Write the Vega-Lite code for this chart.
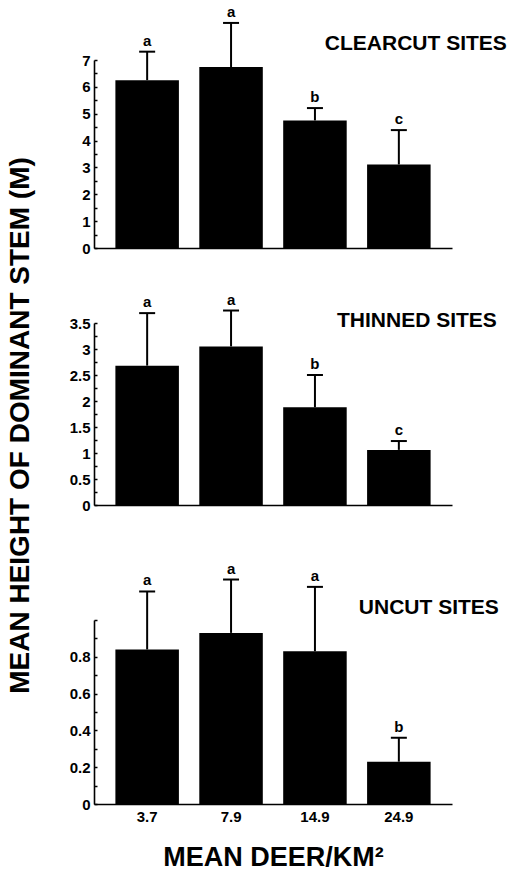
{
  "$schema": "https://vega.github.io/schema/vega-lite/v6.json",
  "background": "white",
  "padding": {"left": 7, "top": 4, "right": 0, "bottom": 0},
  "title": {
    "text": "MEAN HEIGHT OF DOMINANT STEM (M)",
    "orient": "left",
    "anchor": "middle",
    "font": "Liberation Sans",
    "fontSize": 28,
    "fontWeight": "bold",
    "color": "black",
    "offset": 34,
    "dx": 12
  },
  "datasets": {
    "clearcut": [
      {"deer": "3.7", "mean": 6.25, "upper": 7.31, "group": "a"},
      {"deer": "7.9", "mean": 6.74, "upper": 8.38, "group": "a"},
      {"deer": "14.9", "mean": 4.75, "upper": 5.21, "group": "b"},
      {"deer": "24.9", "mean": 3.11, "upper": 4.39, "group": "c"}
    ],
    "thinned": [
      {"deer": "3.7", "mean": 2.68, "upper": 3.69, "group": "a"},
      {"deer": "7.9", "mean": 3.05, "upper": 3.74, "group": "a"},
      {"deer": "14.9", "mean": 1.88, "upper": 2.5, "group": "b"},
      {"deer": "24.9", "mean": 1.06, "upper": 1.23, "group": "c"}
    ],
    "uncut": [
      {"deer": "3.7", "mean": 0.84, "upper": 1.155, "group": "a"},
      {"deer": "7.9", "mean": 0.93, "upper": 1.22, "group": "a"},
      {"deer": "14.9", "mean": 0.83, "upper": 1.18, "group": "a"},
      {"deer": "24.9", "mean": 0.23, "upper": 0.36, "group": "b"}
    ]
  },
  "spacing": 36,
  "vconcat": [
    {
      "width": 358,
      "height": 188,
      "data": {"name": "clearcut"},
      "encoding": {
        "x": {
          "field": "deer", "type": "ordinal", "sort": null,
          "scale": {"paddingInner": 0.243, "paddingOuter": 0.255},
          "axis": {"labels": false, "ticks": false, "title": null}
        }
      },
      "layer": [
        {
          "mark": {"type": "bar", "color": "black", "clip": false},
          "encoding": {
            "y": {
              "field": "mean", "type": "quantitative",
              "scale": {"domain": [0, 7], "nice": false},
              "axis": {
                "title": null,
                "labelOverlap": false,
                "tickCount": 50,
                "values": [0, 0.5, 1, 1.5, 2, 2.5, 3, 3.5, 4, 4.5, 5, 5.5, 6, 6.5, 7],
                "format": ".1~f",
                "labelExpr": "datum.value % 1 == 0 ? datum.label : ''"
              }
            }
          }
        },
        {
          "mark": {"type": "rule", "color": "black", "strokeWidth": 2, "clip": false},
          "encoding": {
            "y": {"field": "mean", "type": "quantitative"},
            "y2": {"field": "upper"}
          }
        },
        {
          "mark": {"type": "tick", "color": "black", "orient": "horizontal", "size": 16, "thickness": 2, "opacity": 1, "clip": false},
          "encoding": {"y": {"field": "upper", "type": "quantitative"}}
        },
        {
          "mark": {"type": "text", "baseline": "alphabetic", "dy": -6, "fontSize": 15, "fontWeight": "bold", "color": "black"},
          "encoding": {
            "y": {"field": "upper", "type": "quantitative"},
            "text": {"field": "group"}
          }
        },
        {
          "data": {"values": [{"deer": "24.9", "at": 7.6, "label": "CLEARCUT SITES"}]},
          "mark": {"type": "text", "align": "right", "baseline": "middle", "dx": 108, "fontSize": 21, "fontWeight": "bold", "color": "black"},
          "encoding": {
            "y": {"field": "at", "type": "quantitative"},
            "text": {"field": "label"}
          }
        }
      ]
    },
    {
      "width": 358,
      "height": 182,
      "data": {"name": "thinned"},
      "encoding": {
        "x": {
          "field": "deer", "type": "ordinal", "sort": null,
          "scale": {"paddingInner": 0.243, "paddingOuter": 0.255},
          "axis": {"labels": false, "ticks": false, "title": null, "minExtent": 20}
        }
      },
      "layer": [
        {
          "mark": {"type": "bar", "color": "black", "clip": false},
          "encoding": {
            "y": {
              "field": "mean", "type": "quantitative",
              "scale": {"domain": [0, 3.5], "nice": false},
              "axis": {
                "title": null,
                "labelOverlap": false,
                "tickCount": 50,
                "values": [0, 0.25, 0.5, 0.75, 1, 1.25, 1.5, 1.75, 2, 2.25, 2.5, 2.75, 3, 3.25, 3.5],
                "format": ".1~f",
                "labelExpr": "datum.value % 0.5 == 0 ? datum.label : ''"
              }
            }
          }
        },
        {
          "mark": {"type": "rule", "color": "black", "strokeWidth": 2, "clip": false},
          "encoding": {
            "y": {"field": "mean", "type": "quantitative"},
            "y2": {"field": "upper"}
          }
        },
        {
          "mark": {"type": "tick", "color": "black", "orient": "horizontal", "size": 16, "thickness": 2, "opacity": 1, "clip": false},
          "encoding": {"y": {"field": "upper", "type": "quantitative"}}
        },
        {
          "mark": {"type": "text", "baseline": "alphabetic", "dy": -6, "fontSize": 15, "fontWeight": "bold", "color": "black"},
          "encoding": {
            "y": {"field": "upper", "type": "quantitative"},
            "text": {"field": "group"}
          }
        },
        {
          "data": {"values": [{"deer": "24.9", "at": 3.53, "label": "THINNED SITES"}]},
          "mark": {"type": "text", "align": "right", "baseline": "middle", "dx": 98, "fontSize": 21, "fontWeight": "bold", "color": "black"},
          "encoding": {
            "y": {"field": "at", "type": "quantitative"},
            "text": {"field": "label"}
          }
        }
      ]
    },
    {
      "width": 358,
      "height": 184,
      "data": {"name": "uncut"},
      "encoding": {
        "x": {
          "field": "deer", "type": "ordinal", "sort": null,
          "scale": {"paddingInner": 0.243, "paddingOuter": 0.255},
          "axis": {
            "ticks": false,
            "labelAngle": 0,
            "labelPadding": 5,
            "title": "MEAN DEER/KM²",
            "titleFontSize": 27,
            "titlePadding": 20
          }
        }
      },
      "layer": [
        {
          "mark": {"type": "bar", "color": "black", "clip": false},
          "encoding": {
            "y": {
              "field": "mean", "type": "quantitative",
              "scale": {"domain": [0, 1], "nice": false},
              "axis": {
                "title": null,
                "labelOverlap": false,
                "tickCount": 50,
                "values": [0, 0.1, 0.2, 0.3, 0.4, 0.5, 0.6, 0.7, 0.8, 0.9, 1],
                "format": ".1~f",
                "labelExpr": "(round(datum.value * 10) % 2 == 0 && datum.value < 0.95) ? datum.label : ''"
              }
            }
          }
        },
        {
          "mark": {"type": "rule", "color": "black", "strokeWidth": 2, "clip": false},
          "encoding": {
            "y": {"field": "mean", "type": "quantitative"},
            "y2": {"field": "upper"}
          }
        },
        {
          "mark": {"type": "tick", "color": "black", "orient": "horizontal", "size": 16, "thickness": 2, "opacity": 1, "clip": false},
          "encoding": {"y": {"field": "upper", "type": "quantitative"}}
        },
        {
          "mark": {"type": "text", "baseline": "alphabetic", "dy": -6, "fontSize": 15, "fontWeight": "bold", "color": "black"},
          "encoding": {
            "y": {"field": "upper", "type": "quantitative"},
            "text": {"field": "group"}
          }
        },
        {
          "data": {"values": [{"deer": "24.9", "at": 1.066, "label": "UNCUT SITES"}]},
          "mark": {"type": "text", "align": "right", "baseline": "middle", "dx": 100, "fontSize": 21, "fontWeight": "bold", "color": "black"},
          "encoding": {
            "y": {"field": "at", "type": "quantitative"},
            "text": {"field": "label"}
          }
        }
      ]
    }
  ],
  "config": {
    "font": "Liberation Sans",
    "view": {"stroke": null},
    "axis": {
      "grid": false,
      "domainColor": "black",
      "domainWidth": 1.6,
      "tickColor": "black",
      "tickWidth": 1.5,
      "tickSize": -3,
      "labelFont": "Liberation Sans",
      "labelFontSize": 15,
      "labelFontWeight": "bold",
      "labelColor": "black",
      "labelPadding": 7,
      "labelOverlap": false,
      "titleFont": "Liberation Sans",
      "titleFontWeight": "bold",
      "titleColor": "black"
    }
  }
}
